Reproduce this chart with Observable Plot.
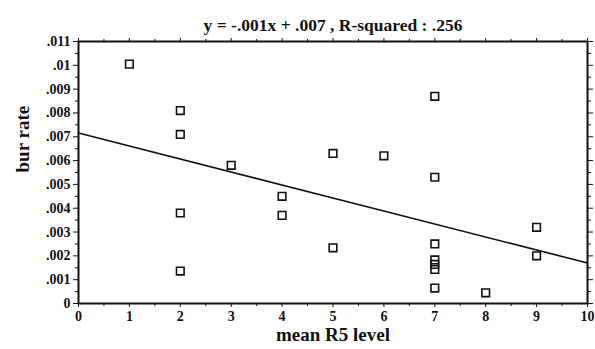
<!DOCTYPE html>
<html>
<head>
<meta charset="utf-8">
<script src="https://cdn.jsdelivr.net/npm/d3@7"></script>
<script src="https://cdn.jsdelivr.net/npm/@observablehq/plot@0.6"></script>
<style>
  html, body { margin: 0; padding: 0; background: #fff; }
</style>
</head>
<body>
<div id="chart"></div>
<script>
// Data
const r5Level = [1, 2, 2, 2, 2, 3, 4, 4, 5, 5, 6, 7, 7, 7, 7, 7, 7, 7, 8, 9, 9];
const burRate = [0.01005, 0.0081, 0.0071, 0.0038, 0.00136, 0.0058, 0.0045, 0.0037, 0.0063, 0.00234, 0.0062, 0.0087, 0.0053, 0.0025, 0.00183, 0.00164, 0.00143, 0.00065, 0.00045, 0.0032, 0.0020];
const fitX = [0, 10];
const fitY = [0.00716, 0.0017];
const xTicks = [0, 1, 2, 3, 4, 5, 6, 7, 8, 9, 10];
const xMinor = [0.5, 1.5, 2.5, 3.5, 4.5, 5.5, 6.5, 7.5, 8.5, 9.5];
const yTicks = [0, 0.001, 0.002, 0.003, 0.004, 0.005, 0.006, 0.007, 0.008, 0.009, 0.01, 0.011];
const yMinor = [0.0005, 0.0015, 0.0025, 0.0035, 0.0045, 0.0055, 0.0065, 0.0075, 0.0085, 0.0095, 0.0105];
const titleText = "y = -.001x + .007 , R-squared : .256";
const xLabel = "mean R5 level";
const yLabel = "bur rate";

const points = r5Level.map((x, i) => ({x, y: burRate[i]}));
const fit = fitX.map((x, i) => ({x, y: fitY[i]}));
const yFmt = d => d === 0 ? "0" : d3.format(".3~f")(d).replace(/^0\./, ".");
const blank = () => "";

const chart = Plot.plot({
  width: 595,
  height: 349,
  marginLeft: 78,
  marginRight: 8,
  marginTop: 41,
  marginBottom: 46,
  style: {fontFamily: "Liberation Serif", fontSize: "14px", fontWeight: "bold", color: "#111", background: "#fff"},
  x: {domain: [0, 10]},
  y: {domain: [0, 0.011]},
  marks: [
    Plot.axisX(xTicks, {anchor: "bottom", tickSize: 4, tickPadding: 4, tickFormat: d => String(d), label: null}),
    Plot.axisX(xMinor, {anchor: "bottom", tickSize: 3, tickFormat: blank, label: null}),
    Plot.axisX(xTicks, {anchor: "top", tickSize: 4, tickFormat: blank, label: null}),
    Plot.axisX(xMinor, {anchor: "top", tickSize: 3, tickFormat: blank, label: null}),
    Plot.axisY(yTicks, {anchor: "left", tickSize: 5, tickPadding: 3, tickFormat: yFmt, label: null}),
    Plot.axisY(yMinor, {anchor: "left", tickSize: 3, tickFormat: blank, label: null}),
    Plot.axisY(yTicks, {anchor: "right", tickSize: 5, tickFormat: blank, label: null}),
    Plot.axisY(yMinor, {anchor: "right", tickSize: 3, tickFormat: blank, label: null}),
    Plot.frame({stroke: "#111", strokeWidth: 2}),
    Plot.line(fit, {x: "x", y: "y", stroke: "#111", strokeWidth: 1.6}),
    Plot.dot(points, {x: "x", y: "y", symbol: "square", r: 4.3, stroke: "#111", strokeWidth: 1.6, fill: "none"}),
    Plot.text([titleText], {frameAnchor: "top", text: d => d, dy: -23, fontSize: 17.5, fontWeight: "bold"}),
    Plot.text([xLabel], {frameAnchor: "bottom", text: d => d, dy: 37, fontSize: 19, fontWeight: "bold"}),
    Plot.text([yLabel], {frameAnchor: "left", text: d => d, dx: -56, rotate: -90, fontSize: 19, fontWeight: "bold"})
  ]
});
document.getElementById("chart").append(chart);
</script>
</body>
</html>
